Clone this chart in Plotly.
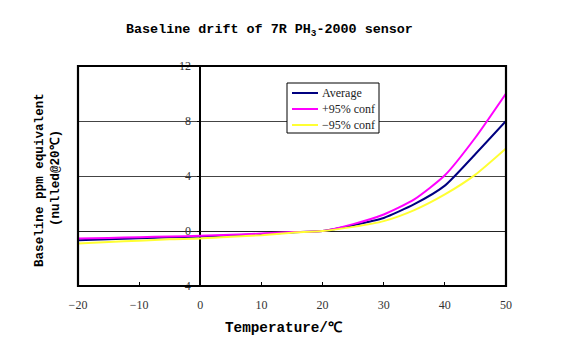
import plotly.graph_objects as go

temps = [-20, -15, -10, -5, 0, 5, 10, 15, 20, 25, 30, 35, 40, 45, 50]
average = [-0.68, -0.6, -0.53, -0.46, -0.4, -0.32, -0.22, -0.1, 0.0, 0.42, 0.95, 1.95, 3.3, 5.6, 8.0]
plus95 = [-0.55, -0.5, -0.45, -0.4, -0.35, -0.28, -0.19, -0.08, 0.0, 0.5, 1.2, 2.3, 4.05, 6.8, 10.0]
minus95 = [-0.9, -0.8, -0.7, -0.6, -0.55, -0.42, -0.3, -0.12, 0.0, 0.3, 0.72, 1.52, 2.66, 4.1, 6.0]

series_names = ["Average", "+95% conf", "\u221295% conf"]
series_colors = ["#000080", "#FF00FF", "#FFFF33"]
y_ticks = [-4, 0, 4, 8, 12]
y_ticktext = ["-4", "0", "4", "8", "12"]
x_ticks = [-20, -10, 0, 10, 20, 30, 40, 50]
x_ticktext = ["\u221220", "\u221210", "0", "10", "20", "30", "40", "50"]

serif = "Liberation Serif, DejaVu Serif, serif"
mono = "Liberation Mono, DejaVu Sans Mono, monospace"

W, H = 571, 354
L, R, T, B = 78, 65, 66, 68
PW, PH = W - L - R, H - T - B


def px(xp):
    return (xp - L) / PW


def py(yp):
    return (H - B - yp) / PH


fig = go.Figure()
for name, ys, col in zip(series_names, [average, plus95, minus95], series_colors):
    fig.add_trace(go.Scatter(x=temps, y=ys, name=name, mode="lines", showlegend=False,
                             line=dict(color=col, width=2, shape="spline", smoothing=0.6)))

shapes = [dict(type="rect", xref="paper", yref="paper", x0=0, x1=1, y0=0, y1=1,
               line=dict(color="black", width=2.2), layer="above")]
annotations = []

# manual legend
shapes.append(dict(type="rect", xref="paper", yref="paper", x0=px(287), x1=px(379),
                   y0=py(133), y1=py(83), line=dict(color="black", width=1),
                   fillcolor="white", layer="above"))
for i, (name, col) in enumerate(zip(series_names, series_colors)):
    yy = [93, 109, 125][i]
    shapes.append(dict(type="line", xref="paper", yref="paper", x0=px(292), x1=px(318),
                       y0=py(yy), y1=py(yy), line=dict(color=col, width=2), layer="above"))
    annotations.append(dict(text=name, xref="paper", yref="paper", x=px(320), y=py(yy),
                            xanchor="left", yanchor="middle", showarrow=False,
                            font=dict(family=serif, size=12, color="#222")))

annotations += [
    dict(text="<b>Baseline drift of 7R PH<sub>3</sub>-2000 sensor</b>",
         xref="paper", yref="paper", x=px(269), y=py(31),
         xanchor="center", yanchor="middle", showarrow=False,
         font=dict(family=mono, size=13.4, color="black")),
    dict(text="<b>Temperature/\u2103</b>",
         xref="paper", yref="paper", x=px(284), y=py(328),
         xanchor="center", yanchor="middle", showarrow=False,
         font=dict(family=mono, size=14.3, color="black")),
    dict(text="<b>Baseline ppm equivalent</b>",
         xref="paper", yref="paper", x=px(40), y=py(180),
         xanchor="center", yanchor="middle", showarrow=False, textangle=-90,
         font=dict(family=mono, size=12.6, color="black")),
    dict(text="<b>(nulled@20\u2103)</b>",
         xref="paper", yref="paper", x=px(56), y=py(178),
         xanchor="center", yanchor="middle", showarrow=False, textangle=-90,
         font=dict(family=mono, size=12.6, color="black")),
]

fig.update_layout(
    width=W, height=H,
    margin=dict(l=L, r=R, t=T, b=B, pad=0),
    paper_bgcolor="white", plot_bgcolor="white",
    showlegend=False,
    xaxis=dict(range=[-20, 50], tickvals=x_ticks, ticktext=x_ticktext,
               ticks="inside", ticklen=4, tickcolor="black", tickwidth=1,
               ticklabelstandoff=10,
               showgrid=False, zeroline=True, zerolinecolor="black", zerolinewidth=1.5,
               tickfont=dict(family=serif, size=12, color="#333"),
               showline=False, fixedrange=True),
    yaxis=dict(range=[-4, 12], tickvals=y_ticks, ticktext=y_ticktext,
               anchor="free", position=(0 - (-20)) / 70, side="left",
               ticks="outside", ticklen=3, tickcolor="black", tickwidth=1,
               ticklabelstandoff=4,
               showgrid=True, gridcolor="#444", gridwidth=1.3,
               zeroline=True, zerolinecolor="#222", zerolinewidth=1.3,
               tickfont=dict(family=serif, size=12, color="#333"),
               showline=False, fixedrange=True),
    shapes=shapes,
    annotations=annotations,
)

fig.write_html("out.html")
